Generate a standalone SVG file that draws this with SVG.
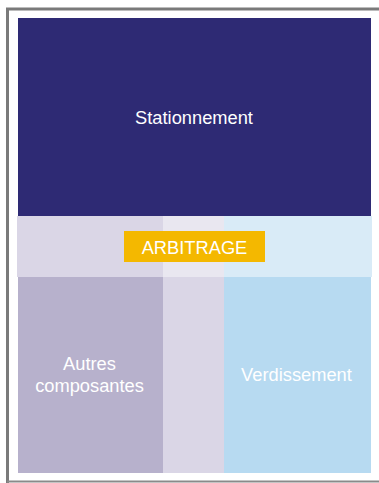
<svg xmlns="http://www.w3.org/2000/svg" width="379" height="483" viewBox="0 0 379 483">
<style>
  text { font-family: "Liberation Sans", Arial, sans-serif; fill: #ffffff; text-anchor: middle; font-size: 18.3px; }
</style>
<rect x="0" y="0" width="379" height="483" fill="#ffffff"/>
<g id="frame">
  <path d="M7.5 483 V9 H379" fill="none" stroke="#7a7a7a" stroke-width="3"/>
  <line x1="7" y1="481.5" x2="379" y2="481.5" stroke="#8a8a8a" stroke-width="2"/>
</g>
<g id="band">
  <rect x="17" y="216" width="146" height="61" fill="#dad6e6"/>
  <rect x="163" y="216" width="61" height="61" fill="#e9e7f0"/>
  <rect x="224" y="216" width="148" height="61" fill="#d9ebf7"/>
</g>
<g id="stationnement">
  <rect x="18" y="18" width="353" height="198" fill="#2e2a74"/>
  <text x="194" y="124">Stationnement</text>
</g>
<g id="autres">
  <rect x="18" y="277" width="145" height="196" fill="#b7b1cc"/>
  <text x="89.5" y="370">Autres</text>
  <text x="89.5" y="392">composantes</text>
</g>
<g id="milieu">
  <rect x="163" y="277" width="61" height="196" fill="#dad6e6"/>
</g>
<g id="verdissement">
  <rect x="224" y="277" width="147" height="196" fill="#b7daf1"/>
  <text x="296.5" y="381">Verdissement</text>
</g>
<g id="arbitrage">
  <rect x="124" y="231" width="141" height="31" fill="#f4b800"/>
  <text x="194.5" y="254">ARBITRAGE</text>
</g>
<g id="connectors"></g>
</svg>
